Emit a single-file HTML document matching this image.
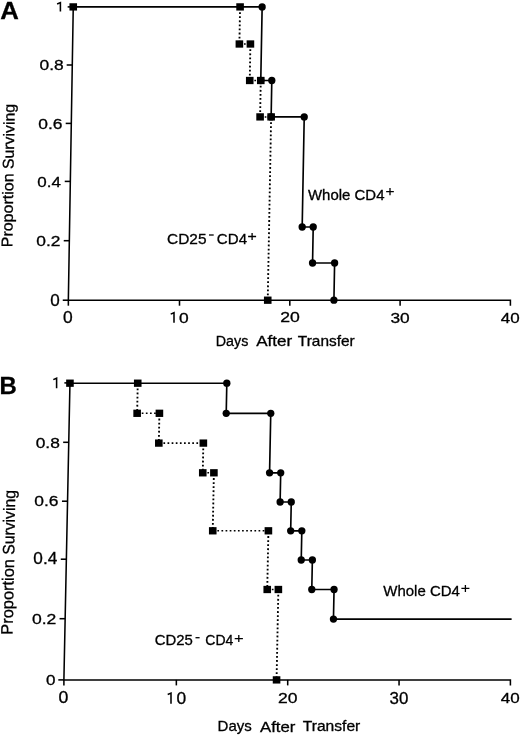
<!DOCTYPE html>
<html><head><meta charset="utf-8"><title>Survival curves</title>
<style>
html,body{margin:0;padding:0;background:#fff;width:520px;height:736px;overflow:hidden}
svg{display:block;filter:grayscale(1)}
text{font-family:"Liberation Sans",sans-serif;fill:#000;stroke:#000;stroke-width:0.3px}
</style></head><body>
<svg width="520" height="736" viewBox="0 0 520 736">
<rect width="520" height="736" fill="#fff"/>
<path d="M73.25 6.9L68.35 300.2H510.4V305.7" fill="none" stroke="#000" stroke-width="1.55"/>
<path d="M67.65 6.9H73.25" stroke="#000" stroke-width="1.55"/>
<path d="M66.68 65H72.28" stroke="#000" stroke-width="1.55"/>
<path d="M65.7 123.4H71.3" stroke="#000" stroke-width="1.55"/>
<path d="M64.73 181.4H70.33" stroke="#000" stroke-width="1.55"/>
<path d="M63.74 240.7H69.34" stroke="#000" stroke-width="1.55"/>
<path d="M62.75 300.2H68.35" stroke="#000" stroke-width="1.55"/>
<path d="M68.35 300.2V305.7" stroke="#000" stroke-width="1.55"/>
<path d="M179.5 300.2V305.7" stroke="#000" stroke-width="1.55"/>
<path d="M289.8 300.2V305.7" stroke="#000" stroke-width="1.55"/>
<path d="M400.1 300.2V305.7" stroke="#000" stroke-width="1.55"/>
<path d="M243.99 44L250.42 44M254.34 80.5L260.77 80.5M264.7 116.9L271.13 116.9" fill="none" stroke="#000" stroke-width="1.55" stroke-dasharray="1.7 2.42"/>
<path d="M239.98 12.2L239.39 44M250.32 49.3L249.74 80.5M260.68 85.8L260.1 116.9M271.03 122.2L267.74 300.2" fill="none" stroke="#000" stroke-width="1.85" stroke-dasharray="1.8 2.28"/>
<path d="M73.25 6.9L262.14 6.9M260.77 80.5L271.8 80.5M271.13 116.9L304.22 116.9M302.18 227L313.21 227M312.55 263L334.61 263M262.14 6.9L260.77 80.5M271.8 80.5L271.13 116.9M304.22 116.9L302.18 227M313.21 227L312.55 263M334.61 263L333.92 300.2" fill="none" stroke="#000" stroke-width="1.65"/>
<circle cx="262.14" cy="6.9" r="3.65"/>
<circle cx="260.77" cy="80.5" r="3.65"/>
<circle cx="271.8" cy="80.5" r="3.65"/>
<circle cx="271.13" cy="116.9" r="3.65"/>
<circle cx="304.22" cy="116.9" r="3.65"/>
<circle cx="302.18" cy="227" r="3.65"/>
<circle cx="313.21" cy="227" r="3.65"/>
<circle cx="312.55" cy="263" r="3.65"/>
<circle cx="334.61" cy="263" r="3.65"/>
<circle cx="333.92" cy="300.2" r="3.65"/>
<rect x="69.45" y="3.25" width="7.6" height="7.3"/>
<rect x="236.28" y="3.25" width="7.6" height="7.3"/>
<rect x="235.59" y="40.35" width="7.6" height="7.3"/>
<rect x="246.62" y="40.35" width="7.6" height="7.3"/>
<rect x="245.94" y="76.85" width="7.6" height="7.3"/>
<rect x="256.97" y="76.85" width="7.6" height="7.3"/>
<rect x="256.3" y="113.25" width="7.6" height="7.3"/>
<rect x="267.33" y="113.25" width="7.6" height="7.3"/>
<rect x="263.94" y="296.55" width="7.6" height="7.3"/>
<text transform="translate(0.16 18.75) scale(1.053 1)" font-size="24.45" font-weight="bold">A</text>
<path d="M57.1 4L60.4 2.6V11.5" stroke="#000" stroke-width="1.55" fill="none" stroke-linejoin="miter"/>
<text transform="translate(39.56 69.91) scale(1.128 1)" font-size="15.45">0.8</text>
<text transform="translate(38.34 128.89) scale(1.194 1)" font-size="14.59">0.6</text>
<text transform="translate(37.37 187.46) scale(1.096 1)" font-size="15.48">0.4</text>
<text transform="translate(36.35 245.89) scale(1.172 1)" font-size="14.86">0.2</text>
<text transform="translate(50.34 305.74) scale(1.085 1)" font-size="15.72">0</text>
<text transform="translate(62.91 322.81) scale(1.071 1)" font-size="16.31">0</text>
<path d="M170.7 314.1L174 312.7V322.7" stroke="#000" stroke-width="1.55" fill="none" stroke-linejoin="miter"/>
<text transform="translate(179.06 322.81) scale(1.195 1)" font-size="14.55">0</text>
<text transform="translate(280.13 322.41) scale(1.185 1)" font-size="14.88">20</text>
<text transform="translate(390.38 322.79) scale(1.146 1)" font-size="15.11">30</text>
<text transform="translate(500.76 322.66) scale(1.148 1)" font-size="14.8">40</text>
<text transform="translate(215.71 346.27) scale(0.949 1)" font-size="15.07">Days</text>
<text transform="translate(256.21 346.37) scale(1.214 1)" font-size="14">After</text>
<text transform="translate(297.85 346.13) scale(1.124 1)" font-size="13.72">Transfer</text>
<g transform="matrix(1,0,-0.0180,1,3.155,0)"><text transform="translate(13.5 247.28) rotate(-90) scale(1.033 1)" font-size="15.51">Proportion</text></g>
<g transform="matrix(1,0,-0.0180,1,3.155,0)"><text transform="translate(13.5 169.03) rotate(-90) scale(1.020 1)" font-size="15.51">Surviving</text></g>
<text transform="translate(308 199.87) scale(1.049 1)" font-size="14.26">Whole CD4</text>
<path d="M386.15 191.6H393.85 M390 187.95V195.25" stroke="#000" stroke-width="1.3" fill="none"/>
<text transform="translate(167.04 243.63) scale(1.003 1)" font-size="15.4">CD25</text>
<path d="M209 235H213.7" stroke="#000" stroke-width="1.3" fill="none"/>
<text transform="translate(216.87 243.63) scale(0.980 1)" font-size="15.4">CD4</text>
<path d="M248.1 236.5H256.1 M252.1 233V240" stroke="#000" stroke-width="1.3" fill="none"/>
<path d="M69.96 382.9L63.9 679.9H510.4V685.4" fill="none" stroke="#000" stroke-width="1.55"/>
<path d="M64.36 382.9H69.96" stroke="#000" stroke-width="1.55"/>
<path d="M63.15 442.3H68.75" stroke="#000" stroke-width="1.55"/>
<path d="M61.95 501.2H67.55" stroke="#000" stroke-width="1.55"/>
<path d="M60.76 559.2H66.36" stroke="#000" stroke-width="1.55"/>
<path d="M59.55 618.7H65.15" stroke="#000" stroke-width="1.55"/>
<path d="M58.3 679.9H63.9" stroke="#000" stroke-width="1.55"/>
<path d="M63.9 679.9V685.4" stroke="#000" stroke-width="1.55"/>
<path d="M176.35 679.9V685.4" stroke="#000" stroke-width="1.55"/>
<path d="M287.7 679.9V685.4" stroke="#000" stroke-width="1.55"/>
<path d="M399.05 679.9V685.4" stroke="#000" stroke-width="1.55"/>
<path d="M141.74 413.3L159.41 413.3M163.42 443.1L203.36 443.1M207.36 472.8L213.9 472.8M217.34 530.8L268.41 530.8M271.84 589.5L278.37 589.5" fill="none" stroke="#000" stroke-width="1.55" stroke-dasharray="1.7 2.42"/>
<path d="M137.64 388.5L137.14 413.3M159.31 418.6L158.82 443.1M203.25 448.4L202.76 472.8M213.79 478.1L212.74 530.8M268.31 536.1L267.24 589.5M278.27 594.8L276.56 679.9" fill="none" stroke="#000" stroke-width="1.85" stroke-dasharray="1.8 2.28"/>
<path d="M69.95 383.2L226.82 383.2M226.22 413.3L270.76 413.3M269.57 472.8L280.71 472.8M280.12 502L291.26 502M290.68 530.8L301.82 530.8M301.23 560L312.37 560M311.78 589.5L334.05 589.5M333.46 619.1L511.62 619.1M226.82 383.2L226.22 413.3M270.76 413.3L269.57 472.8M280.71 472.8L280.12 502M291.26 502L290.68 530.8M301.82 530.8L301.23 560M312.37 560L311.78 589.5M334.05 589.5L333.46 619.1" fill="none" stroke="#000" stroke-width="1.65"/>
<circle cx="226.82" cy="383.2" r="3.65"/>
<circle cx="226.22" cy="413.3" r="3.65"/>
<circle cx="270.76" cy="413.3" r="3.65"/>
<circle cx="269.57" cy="472.8" r="3.65"/>
<circle cx="280.71" cy="472.8" r="3.65"/>
<circle cx="280.12" cy="502" r="3.65"/>
<circle cx="291.26" cy="502" r="3.65"/>
<circle cx="290.68" cy="530.8" r="3.65"/>
<circle cx="301.82" cy="530.8" r="3.65"/>
<circle cx="301.23" cy="560" r="3.65"/>
<circle cx="312.37" cy="560" r="3.65"/>
<circle cx="311.78" cy="589.5" r="3.65"/>
<circle cx="334.05" cy="589.5" r="3.65"/>
<circle cx="333.46" cy="619.1" r="3.65"/>
<rect x="66.15" y="379.55" width="7.6" height="7.3"/>
<rect x="133.94" y="379.55" width="7.6" height="7.3"/>
<rect x="133.34" y="409.65" width="7.6" height="7.3"/>
<rect x="155.61" y="409.65" width="7.6" height="7.3"/>
<rect x="155.02" y="439.45" width="7.6" height="7.3"/>
<rect x="199.56" y="439.45" width="7.6" height="7.3"/>
<rect x="198.96" y="469.15" width="7.6" height="7.3"/>
<rect x="210.1" y="469.15" width="7.6" height="7.3"/>
<rect x="208.94" y="527.15" width="7.6" height="7.3"/>
<rect x="264.61" y="527.15" width="7.6" height="7.3"/>
<rect x="263.44" y="585.85" width="7.6" height="7.3"/>
<rect x="274.57" y="585.85" width="7.6" height="7.3"/>
<rect x="272.76" y="676.25" width="7.6" height="7.3"/>
<text transform="translate(-0.39 394.39) scale(0.982 1)" font-size="24.34" font-weight="bold">B</text>
<path d="M53.3 379.6L56.6 378.2V388.2" stroke="#000" stroke-width="1.55" fill="none" stroke-linejoin="miter"/>
<text transform="translate(35.68 447.89) scale(1.197 1)" font-size="14.52">0.8</text>
<text transform="translate(34.34 506.15) scale(1.141 1)" font-size="15.27">0.6</text>
<text transform="translate(33.35 564.15) scale(1.094 1)" font-size="15.74">0.4</text>
<text transform="translate(31.93 624.37) scale(1.132 1)" font-size="15.54">0.2</text>
<text transform="translate(45.94 684.79) scale(1.145 1)" font-size="14.9">0</text>
<text transform="translate(58.52 703.49) scale(1.116 1)" font-size="15.85">0</text>
<path d="M167.7 694.5L171 693.1V703.7" stroke="#000" stroke-width="1.55" fill="none" stroke-linejoin="miter"/>
<text transform="translate(176.55 703.78) scale(1.054 1)" font-size="16.48">0</text>
<text transform="translate(278.08 703.15) scale(1.131 1)" font-size="15.53">20</text>
<text transform="translate(389.5 703.5) scale(1.052 1)" font-size="16.06">30</text>
<text transform="translate(500.69 703.37) scale(1.152 1)" font-size="14.77">40</text>
<text transform="translate(217.56 731.25) scale(0.978 1)" font-size="15.36">Days</text>
<text transform="translate(260 731.87) scale(1.163 1)" font-size="14.43">After</text>
<text transform="translate(302.76 731.39) scale(1.135 1)" font-size="13.76">Transfer</text>
<g transform="matrix(1,0,-0.0200,1,11.246,0)"><text transform="translate(14 634.76) rotate(-90) scale(0.994 1)" font-size="16.52">Proportion</text></g>
<g transform="matrix(1,0,-0.0200,1,11.246,0)"><text transform="translate(14 554.84) rotate(-90) scale(0.954 1)" font-size="16.52">Surviving</text></g>
<text transform="translate(383.25 595.91) scale(0.985 1)" font-size="15.23">Whole CD4</text>
<path d="M461.4 588.4H469.4 M465.4 584.9V591.9" stroke="#000" stroke-width="1.3" fill="none"/>
<text transform="translate(154.66 645.41) scale(1.014 1)" font-size="14.71">CD25</text>
<path d="M195.5 637.7H199.6" stroke="#000" stroke-width="1.3" fill="none"/>
<text transform="translate(205.26 645.41) scale(0.953 1)" font-size="14.71">CD4</text>
<path d="M234.7 638.6H242.9 M238.8 635.1V642.1" stroke="#000" stroke-width="1.3" fill="none"/>
</svg>
</body></html>
